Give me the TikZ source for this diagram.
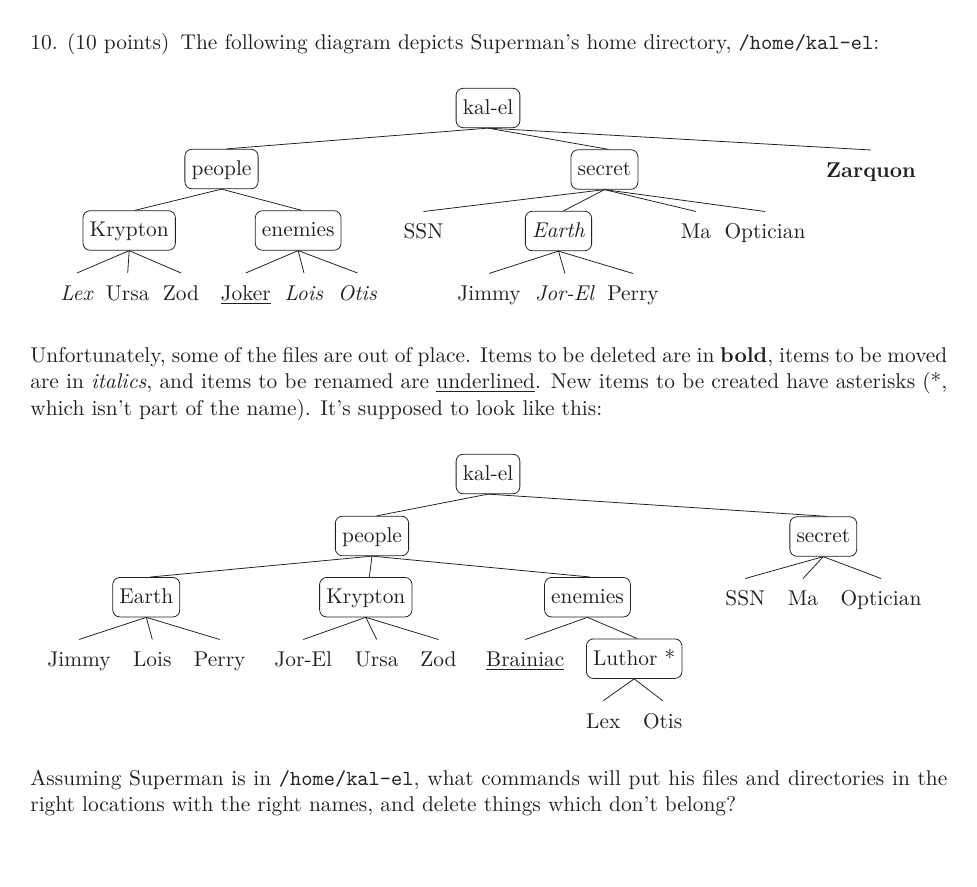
\documentclass[tikz,border=0pt]{standalone}
\usepackage{fontspec}
\definecolor{ink}{gray}{0.13}
\tikzset{
  every node/.style={font=\fontsize{10.95}{14}\selectfont,text=ink},
  box/.style={draw=ink,line width=0.4pt,rounded corners=3.6pt,text height=8.19pt,text depth=1.54pt,inner ysep=5.25pt,inner xsep=3.4pt},
  leaf/.style={anchor=north,text height=7.68pt,text depth=2.05pt,inner ysep=6.15pt,inner xsep=1pt},
  textline/.style={anchor=base west,inner sep=0pt},
  edge/.style={draw=ink,line width=0.4pt}
}
\newcommand{\fullline}[1]{\makebox[469.75pt][s]{#1}}
\begin{document}
\begin{tikzpicture}[x=0.5123pt,y=-0.5123pt]
\useasboundingbox (0,0) rectangle (977,887);
% text
\node[textline] (head) at (30,49.5) {10.\hspace{4.8pt}(10 points)\hspace{5.8pt}The following diagram depicts Superman’s home directory, \texttt{/home/kal-el}:};
\node[textline] (p1a) at (30,362) {\fullline{Unfortunately, some of the files are out of place. Items to be deleted are in \textbf{bold}, items to be moved}};
\node[textline] (p1b) at (30,388.6) {\fullline{are in \textit{italics}, and items to be renamed are \underline{underlined}. New items to be created have asterisks (*,}};
\node[textline] (p1c) at (30,415.2) {which isn’t part of the name). It’s supposed to look like this:};
\node[textline] (p2a) at (30,785) {\fullline{Assuming Superman is in \texttt{/home/kal-el}, what commands will put his files and directories in the}};
\node[textline] (p2b) at (30,811.6) {right locations with the right names, and delete things which don’t belong?};
% first tree
\node[box] (k1) at (488,108) {kal-el};
\node[box] (pe1) at (221.5,169) {people};
\node[box] (se1) at (604.5,169.5) {secret};
\node[leaf] (za1) at (871,150) {\textbf{Zarquon}};
\node[box] (kr1) at (129.2,230.5) {Krypton};
\node[box] (en1) at (298.2,230.5) {enemies};
\node[leaf] (ss1) at (423.5,211.5) {SSN};
\node[box] (ea1) at (558.5,231) {\textit{Earth}};
\node[leaf] (ma1) at (696,211.5) {Ma};
\node[leaf] (op1) at (765,211.5) {Optician};
\node[leaf] (lx1) at (77,273) {\textit{Lex}};
\node[leaf] (ur1) at (127.7,273) {Ursa};
\node[leaf] (zo1) at (181,273) {Zod};
\node[leaf] (jo1) at (245.7,273) {\underline{Joker}};
\node[leaf] (lo1) at (304,273) {\textit{Lois}};
\node[leaf] (ot1) at (357.5,273) {\textit{Otis}};
\node[leaf] (ji1) at (489,273.5) {Jimmy};
\node[leaf] (je1) at (565,273.5) {\textit{Jor-El}};
\node[leaf] (pr1) at (633,273.5) {Perry};
\path[edge] (k1.south) -- ([xshift=2.6pt]pe1.north);
\path[edge] (k1.south) -- ([xshift=2.1pt]se1.north);
\path[edge] (k1.south) -- (za1.north);
\path[edge] (pe1.south) -- ([xshift=2.9pt]kr1.north);
\path[edge] (pe1.south) -- ([xshift=1.8pt]en1.north);
\path[edge] (se1.south) -- (ss1.north);
\path[edge] (se1.south) -- ([xshift=2.6pt]ea1.north);
\path[edge] (se1.south) -- (ma1.north);
\path[edge] (se1.south) -- (op1.north);
\path[edge] (kr1.south) -- (lx1.north);
\path[edge] (kr1.south) -- (ur1.north);
\path[edge] (kr1.south) -- (zo1.north);
\path[edge] (en1.south) -- (jo1.north);
\path[edge] (en1.south) -- (lo1.north);
\path[edge] (en1.south) -- (ot1.north);
\path[edge] (ea1.south) -- (ji1.north);
\path[edge] (ea1.south) -- (je1.north);
\path[edge] (ea1.south) -- (pr1.north);
% second tree
\node[box] (k2) at (488,474) {kal-el};
\node[box] (pe2) at (372,536) {people};
\node[box] (se2) at (823.3,536.5) {secret};
\node[box] (ea2) at (146.3,597.2) {Earth};
\node[box] (kr2) at (365.8,597.2) {Krypton};
\node[box] (en2) at (587.5,597.2) {enemies};
\node[leaf] (ss2) at (745.3,578.5) {SSN};
\node[leaf] (ma2) at (803,578.5) {Ma};
\node[leaf] (op2) at (881,578.5) {Optician};
\node[leaf] (ji2) at (79,639.5) {Jimmy};
\node[leaf] (lo2) at (152.3,639.5) {Lois};
\node[leaf] (pr2) at (219.7,639.5) {Perry};
\node[leaf] (je2) at (303.3,639.5) {Jor-El};
\node[leaf] (ur2) at (376.7,639.5) {Ursa};
\node[leaf] (zo2) at (438.5,639.5) {Zod};
\node[leaf] (br2) at (525.3,639.5) {\underline{Brainiac}};
\node[box] (lu2) at (634.2,658.7) {Luthor *};
\node[leaf] (lx2) at (603.3,700.7) {Lex};
\node[leaf] (ot2) at (662.7,700.7) {Otis};
\path[edge] (k2.south) -- ([xshift=2.4pt]pe2.north);
\path[edge] (k2.south) -- ([xshift=1.9pt]se2.north);
\path[edge] (pe2.south) -- ([xshift=1.9pt]ea2.north);
\path[edge] (pe2.south) -- ([xshift=1.8pt]kr2.north);
\path[edge] (pe2.south) -- ([xshift=1.5pt]en2.north);
\path[edge] (ea2.south) -- (ji2.north);
\path[edge] (ea2.south) -- (lo2.north);
\path[edge] (ea2.south) -- (pr2.north);
\path[edge] (kr2.south) -- (je2.north);
\path[edge] (kr2.south) -- (ur2.north);
\path[edge] (kr2.south) -- (zo2.north);
\path[edge] (en2.south) -- (br2.north);
\path[edge] (en2.south) -- ([xshift=1.5pt]lu2.north);
\path[edge] (lu2.south) -- (lx2.north);
\path[edge] (lu2.south) -- (ot2.north);
\path[edge] (se2.south) -- (ss2.north);
\path[edge] (se2.south) -- (ma2.north);
\path[edge] (se2.south) -- (op2.north);
\end{tikzpicture}
\end{document}
